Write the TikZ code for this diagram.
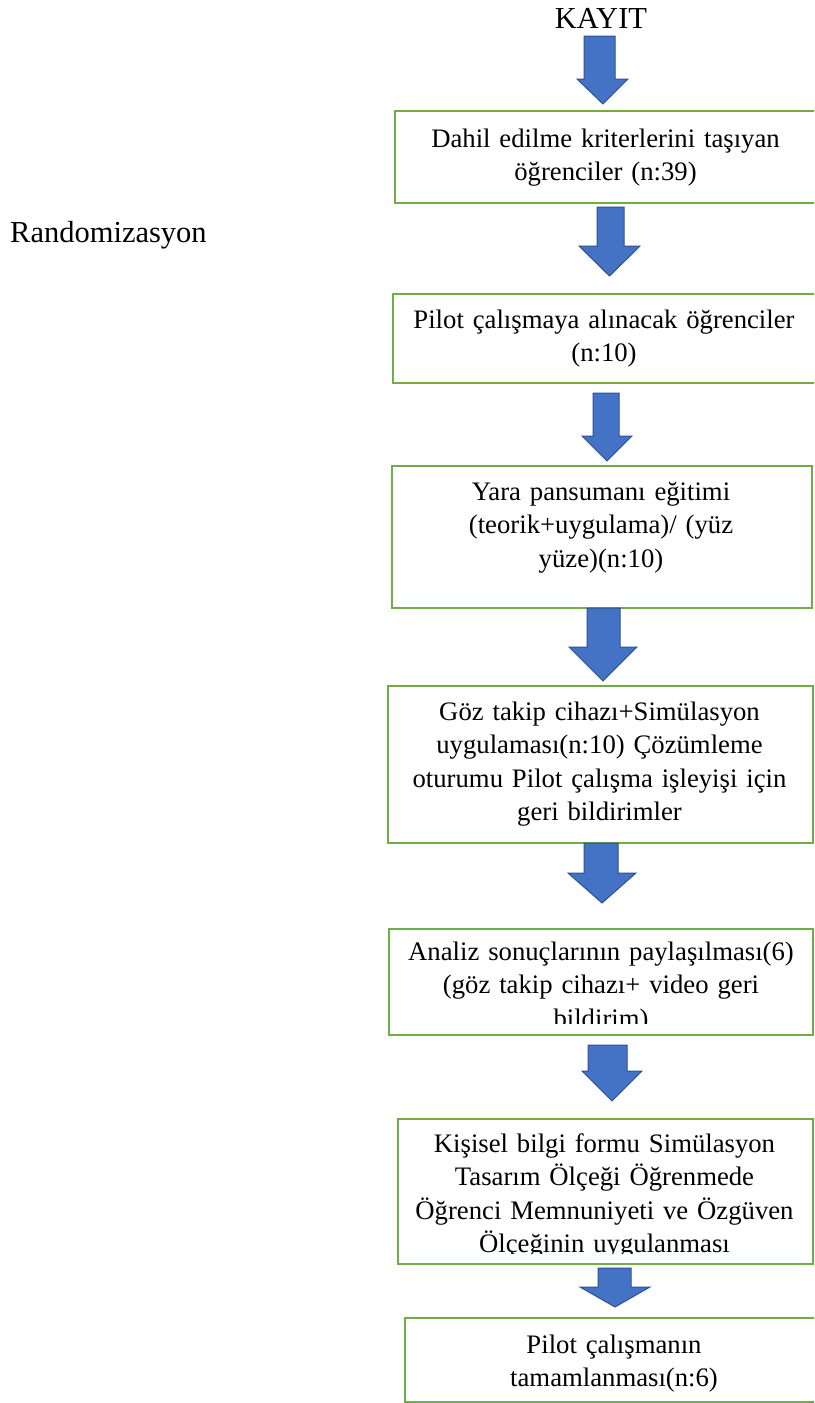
\documentclass[tikz,border=0pt]{standalone}
\usepackage{fontspec}
\setmainfont{Liberation Serif}
\definecolor{boxgreen}{HTML}{70AD47}
\definecolor{arrowblue}{HTML}{4472C4}
\definecolor{arrowedge}{HTML}{2F528F}
\newcommand\blockarrow[8]{\draw[barrow] (#1,#3) -- (#2,#3) -- (#2,#4) -- (#6,#4) -- (#7,#8) -- (#5,#4) -- (#1,#4) -- cycle;}
\begin{document}
\begin{tikzpicture}[x=1pt,y=-1pt,
  box/.style={draw=boxgreen, line width=2pt, inner sep=0pt, anchor=north west},
  txt/.style={font=\fontsize{26.7}{33.5}\selectfont, text width=440pt, align=center, anchor=base, inner sep=0pt},
  head/.style={font=\fontsize{30.5}{36}\selectfont, inner sep=0pt, anchor=base},
  barrow/.style={fill=arrowblue, draw=arrowedge, line width=1pt, line join=miter}]
\useasboundingbox (0,0) rectangle (814,1403);
\clip (0,0) rectangle (814,1403);
\fill[white] (0,0) rectangle (814,1403);

% headings
\node[head] (kayit) at (601,28) {KAYIT};
\node[head, anchor=base west] (rand) at (10,242) {Randomizasyon};

% boxes
\node[box, minimum width=424pt, minimum height=92pt] (b1) at (394,110) {};
\node[box, minimum width=425pt, minimum height=89pt] (b2) at (392,293) {};
\node[box, minimum width=420pt, minimum height=142pt] (b3) at (391,465) {};
\node[box, minimum width=425pt, minimum height=157pt] (b4) at (387,685) {};
\node[box, minimum width=424pt, minimum height=106pt] (b5) at (388,928) {};
\node[box, minimum width=415pt, minimum height=145pt] (b6) at (397,1118) {};
\node[box, minimum width=421pt, minimum height=84pt] (b7) at (404,1317) {};

% texts
\node[txt] (t1) at (605.5,147) {Dahil edilme kriterlerini taşıyan\\öğrenciler (n:39)};
\node[txt] (t2) at (604,328) {Pilot çalışmaya alınacak öğrenciler\\(n:10)};
\node[txt] (t3) at (601,500) {Yara pansumanı eğitimi\\(teorik+uygulama)/ (yüz\\yüze)(n:10)};
\node[txt] (t4) at (599.5,720) {Göz takip cihazı+Simülasyon\\uygulaması(n:10) Çözümleme\\oturumu Pilot çalışma işleyişi için\\geri bildirimler};
\begin{scope}
\clip (388,928) rectangle (812,1023);
\node[txt] (t5) at (601,960) {Analiz sonuçlarının paylaşılması(6)\\(göz takip cihazı+ video geri\\bildirim)};
\end{scope}
\begin{scope}
\clip (397,1118) rectangle (812,1253);
\node[txt] (t6) at (604.5,1152) {Kişisel bilgi formu Simülasyon\\Tasarım Ölçeği Öğrenmede\\Öğrenci Memnuniyeti ve Özgüven\\Ölçeğinin uygulanması};
\end{scope}
\node[txt] (t7) at (614,1353) {Pilot çalışmanın\\tamamlanması(n:6)};

% block arrows
\blockarrow{584}{615}{36}{79}{577}{628}{603}{104}
\blockarrow{597}{624}{207}{246}{579}{640}{609.5}{276}
\blockarrow{593}{619}{393}{436}{582}{632}{607}{461}
\blockarrow{587}{620}{608}{647}{569}{637}{603}{681}
\blockarrow{584}{618}{843}{873}{568}{636}{602}{903}
\blockarrow{588}{627}{1045}{1071}{582}{642}{612}{1101}
\blockarrow{598}{631}{1268}{1287}{580}{650}{615}{1307}
\end{tikzpicture}
\end{document}
